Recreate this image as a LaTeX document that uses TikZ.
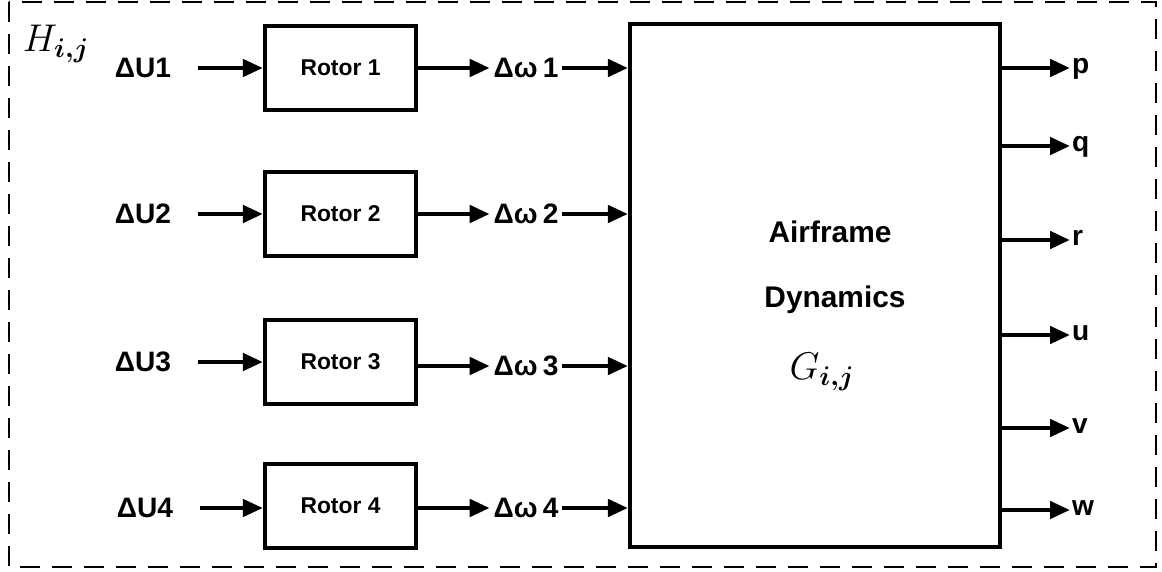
\documentclass[tikz,border=0pt]{standalone}
\usepackage{fix-cm}
\usepackage{amsmath,amssymb}
\usepackage{fontspec}
\setmainfont{Liberation Sans}
\usetikzlibrary{arrows.meta}

\begin{document}
\begin{tikzpicture}[x=0.02cm,y=-0.02cm,
    block/.style={draw,line width=2.4pt,minimum width=3.02cm,minimum height=1.68cm,font=\bfseries\fontsize{13}{15}\selectfont},
    sig/.style={font=\bfseries\fontsize{16}{18}\selectfont,inner sep=2pt},
    outsig/.style={sig,anchor=west,inner xsep=1pt,text height=1.1ex,text depth=0pt},
    arr/.style={line width=2.6pt,-{Triangle[length=0.4cm,width=0.34cm]}},
    bigmath/.style={font=\fontsize{22}{26}\selectfont}]
\useasboundingbox (0,0) rectangle (1162,571);
\draw[line width=1.4pt,dash pattern=on 0.4cm off 0.24cm] (9,2) rectangle (1156,567);
\node[bigmath] (hlabel) at (56,44) {$H_{\boldsymbol{i,j}}$};
% airframe block
\node[draw,line width=2.4pt,minimum width=7.4cm,minimum height=10.46cm] (gbox) at (815,285.5) {};
\node[sig,font=\bfseries\fontsize{17}{20}\selectfont] (airframe) at (830,232) {Airframe};
\node[sig,font=\bfseries\fontsize{17}{20}\selectfont] (dynamics) at (835,300) {Dynamics};
\node[bigmath] (glabel) at (822,372) {$G_{\boldsymbol{i,j}}$};
% rotors
\node[sig] (u1) at (143,68) {ΔU1};
\node[sig] (u2) at (143,214) {ΔU2};
\node[sig] (u3) at (143,362) {ΔU3};
\node[sig] (u4) at (145,508) {ΔU4};
\node[block] (rotor1) at (340.5,68) {Rotor 1};
\node[block] (rotor2) at (340.5,214) {Rotor 2};
\node[block] (rotor3) at (340.5,362) {Rotor 3};
\node[block] (rotor4) at (340.5,506) {Rotor 4};
\node[sig] (w1) at (526,68) {Δω\hspace{3pt}1};
\node[sig] (w2) at (526,214) {Δω\hspace{3pt}2};
\node[sig] (w3) at (526,366) {Δω\hspace{3pt}3};
\node[sig] (w4) at (526,508) {Δω\hspace{3pt}4};
\draw[arr,shorten <=0.46cm] (u1) -- (rotor1);
\draw[arr,shorten <=0.46cm] (u2) -- (rotor2);
\draw[arr,shorten <=0.46cm] (u3) -- (rotor3);
\draw[arr,shorten <=0.46cm] (u4) -- (u4 -| rotor4.west);
\draw[arr] (rotor1) -- (w1);
\draw[arr] (rotor2) -- (w2);
\draw[arr] (rotor3.east |- w3) -- (w3);
\draw[arr] (rotor4.east |- w4) -- (w4);
\draw[arr] (w1) -- (w1 -| gbox.west);
\draw[arr] (w2) -- (w2 -| gbox.west);
\draw[arr] (w3) -- (w3 -| gbox.west);
\draw[arr] (w4) -- (w4 -| gbox.west);
% outputs
\node[outsig] (p) at (1070,68) {p};
\node[outsig] (q) at (1070,146) {q};
\node[outsig] (r) at (1070,240) {r};
\node[outsig] (u) at (1070,335) {u};
\node[outsig] (v) at (1070,428) {v};
\node[outsig] (w) at (1070,510) {w};
\draw[arr] (gbox.east |- p.west) -- (p);
\draw[arr] (gbox.east |- q.west) -- (q);
\draw[arr] (gbox.east |- r.west) -- (r);
\draw[arr] (gbox.east |- u.west) -- (u);
\draw[arr] (gbox.east |- v.west) -- (v);
\draw[arr] (gbox.east |- w.west) -- (w);
\end{tikzpicture}
\end{document}
